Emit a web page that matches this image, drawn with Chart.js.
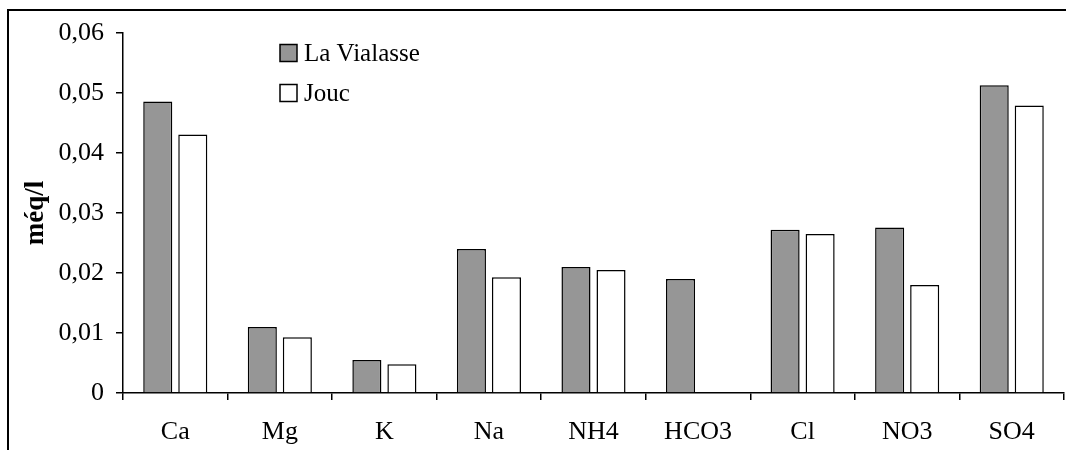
<!DOCTYPE html>
<html>
<head>
<meta charset="utf-8">
<script src="https://cdn.jsdelivr.net/npm/chart.js@4"></script>
<style>
  html, body { margin: 0; padding: 0; background: #fff; }
  #wrap { width: 1067px; height: 450px; }
</style>
</head>
<body>
<div id="wrap"><canvas id="chart" width="1067" height="450"></canvas></div>
<script>
// Ions analysés
const ions = ['Ca', 'Mg', 'K', 'Na', 'NH4', 'HCO3', 'Cl', 'NO3', 'SO4'];

// Concentrations (méq/l)
const laVialasse = [0.0486, 0.0110, 0.0055, 0.0240, 0.0210, 0.0190, 0.0272, 0.0276, 0.0513];
const jouc = [0.0431, 0.0093, 0.0048, 0.0193, 0.0205, null, 0.0265, 0.0180, 0.0479];

// Graduations de l'axe Y
const yTicks = [0, 0.01, 0.02, 0.03, 0.04, 0.05, 0.06];

const FONT = 'Liberation Serif';

// Cadre (haut + gauche) et légende dessinés à la main
const framePlugin = {
  id: 'frame',
  afterDraw(chart) {
    const ctx = chart.ctx;
    ctx.save();
    ctx.strokeStyle = '#000';
    ctx.lineWidth = 2;
    ctx.beginPath();
    ctx.moveTo(1066, 10);
    ctx.lineTo(8, 10);
    ctx.lineTo(8, 450);
    ctx.stroke();

    // Légende
    const rows = [{ y: 53 }, { y: 93 }];
    chart.data.datasets.forEach((ds, i) => {
      const y = rows[i].y;
      ctx.fillStyle = ds.backgroundColor;
      ctx.fillRect(280, y - 8.5, 17, 17);
      ctx.lineWidth = 1.5;
      ctx.strokeStyle = '#000';
      ctx.strokeRect(280, y - 8.5, 17, 17);
      ctx.fillStyle = '#000';
      ctx.font = '25px "' + FONT + '"';
      ctx.textBaseline = 'middle';
      ctx.textAlign = 'left';
      ctx.fillText(ds.label, 304, y + 1);
    });
    ctx.restore();
  }
};

new Chart(document.getElementById('chart'), {
  type: 'bar',
  data: {
    labels: ions,
    datasets: [
      {
        label: 'La Vialasse',
        data: laVialasse,
        backgroundColor: '#969696',
        borderColor: '#000',
        borderWidth: 1.5
      },
      {
        label: 'Jouc',
        data: jouc,
        backgroundColor: '#ffffff',
        borderColor: '#000',
        borderWidth: 1.5
      }
    ]
  },
  options: {
    responsive: false,
    animation: false,
    categoryPercentage: 0.67,
    barPercentage: 0.83,
    layout: { padding: { top: 33, right: 3, left: 0, bottom: 0 } },
    plugins: {
      legend: { display: false },
      tooltip: { enabled: false }
    },
    scales: {
      x: {
        offset: true,
        afterFit(scale) { scale.height = 57; },
        border: { color: '#000', width: 1.5 },
        grid: {
          offset: true,
          drawOnChartArea: false,
          drawTicks: true,
          tickLength: 7,
          color: '#000',
          lineWidth: 1.5
        },
        ticks: {
          color: '#000',
          padding: 17,
          font: { family: FONT, size: 26 }
        }
      },
      y: {
        min: 0,
        max: 0.06,
        afterFit(scale) { scale.width = 123; },
        afterBuildTicks(scale) {
          scale.ticks = yTicks.map(v => ({ value: v }));
        },
        border: { color: '#000', width: 1.5 },
        grid: {
          drawOnChartArea: false,
          drawTicks: true,
          tickLength: 7,
          color: '#000',
          lineWidth: 1.5
        },
        title: {
          display: true,
          text: 'méq/l',
          color: '#000',
          padding: { top: 20, bottom: 0 },
          font: { family: FONT, size: 27, weight: 'bold' }
        },
        ticks: {
          color: '#000',
          padding: 12,
          font: { family: FONT, size: 26 },
          callback: v => v === 0 ? '0' : v.toFixed(2).replace('.', ',')
        }
      }
    }
  },
  plugins: [framePlugin]
});
</script>
</body>
</html>
